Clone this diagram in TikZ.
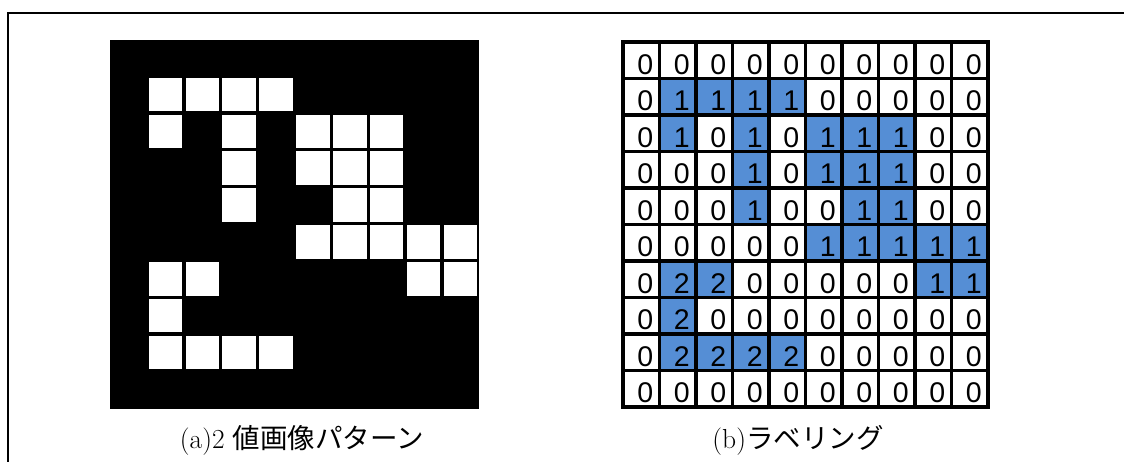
\documentclass[tikz,border=0pt]{standalone}
\usepackage{fontspec}
\newfontfamily\digitfont{Liberation Sans}
\newfontfamily\jpfont{Noto Sans CJK JP}
\definecolor{labelblue}{RGB}{85,142,213}
\tikzset{
  frameline/.style={line width=1.8pt, draw=black},
  blackbg/.style={fill=black, draw=none, inner sep=0pt, minimum size=369pt},
  whitesq/.style={fill=white, draw=none, inner sep=0pt, minimum size=33.4pt},
  gridcell/.style={draw=black, line width=3.4pt, inner sep=0pt, minimum size=36.5pt},
  digit/.style={inner sep=0pt, font=\digitfont\fontsize{28.5}{30}\selectfont},
  caption/.style={inner sep=0pt, font=\fontsize{27.5}{32}\selectfont}
}
\begin{document}
\begin{tikzpicture}[x=1pt,y=-1pt]
\useasboundingbox (0,0) rectangle (1124,461);
\fill[white] (0,0) rectangle (1124,461);
% frame (top and left visible)
\coordinate (fbl) at (8,470);
\coordinate (ftl) at (8,13);
\coordinate (ftr) at (1135,13);
\draw[frameline] (fbl) -- (ftl) -- (ftr);
% (a) binary image
\node[blackbg] (abg) at (294.5,224) {};
\foreach \row [count=\r from 0] in {
  {0,0,0,0,0,0,0,0,0,0},
  {0,1,1,1,1,0,0,0,0,0},
  {0,1,0,1,0,1,1,1,0,0},
  {0,0,0,1,0,1,1,1,0,0},
  {0,0,0,1,0,0,1,1,0,0},
  {0,0,0,0,0,1,1,1,1,1},
  {0,2,2,0,0,0,0,0,1,1},
  {0,2,0,0,0,0,0,0,0,0},
  {0,2,2,2,2,0,0,0,0,0},
  {0,0,0,0,0,0,0,0,0,0}} {
  \foreach \v [count=\c from 0] in \row {
    \ifnum\v>0
      \node[whitesq] (w-\r-\c) at ({110+(\c+0.5)*36.9},{39+(\r+0.5)*36.9}) {};
      \node[gridcell, fill=labelblue] (b-\r-\c) at ({623+(\c+0.5)*36.5},{42+(\r+0.5)*36.5}) {};
    \else
      \node[gridcell, fill=white] (b-\r-\c) at ({623+(\c+0.5)*36.5},{42+(\r+0.5)*36.5}) {};
    \fi
  }
}
\foreach \row [count=\r from 0] in {
  {0,0,0,0,0,0,0,0,0,0},
  {0,1,1,1,1,0,0,0,0,0},
  {0,1,0,1,0,1,1,1,0,0},
  {0,0,0,1,0,1,1,1,0,0},
  {0,0,0,1,0,0,1,1,0,0},
  {0,0,0,0,0,1,1,1,1,1},
  {0,2,2,0,0,0,0,0,1,1},
  {0,2,0,0,0,0,0,0,0,0},
  {0,2,2,2,2,0,0,0,0,0},
  {0,0,0,0,0,0,0,0,0,0}} {
  \foreach \v [count=\c from 0] in \row {
    \node[digit] (d-\r-\c) at ([shift={(4,4)}]b-\r-\c.center) {\v};
  }
}
% captions
\node[caption] (capa) at (302,440) {(a)2 {\jpfont 値画像パターン}};
\node[caption] (capb) at (798,440) {(b){\jpfont ラベリング}};
\end{tikzpicture}
\end{document}
